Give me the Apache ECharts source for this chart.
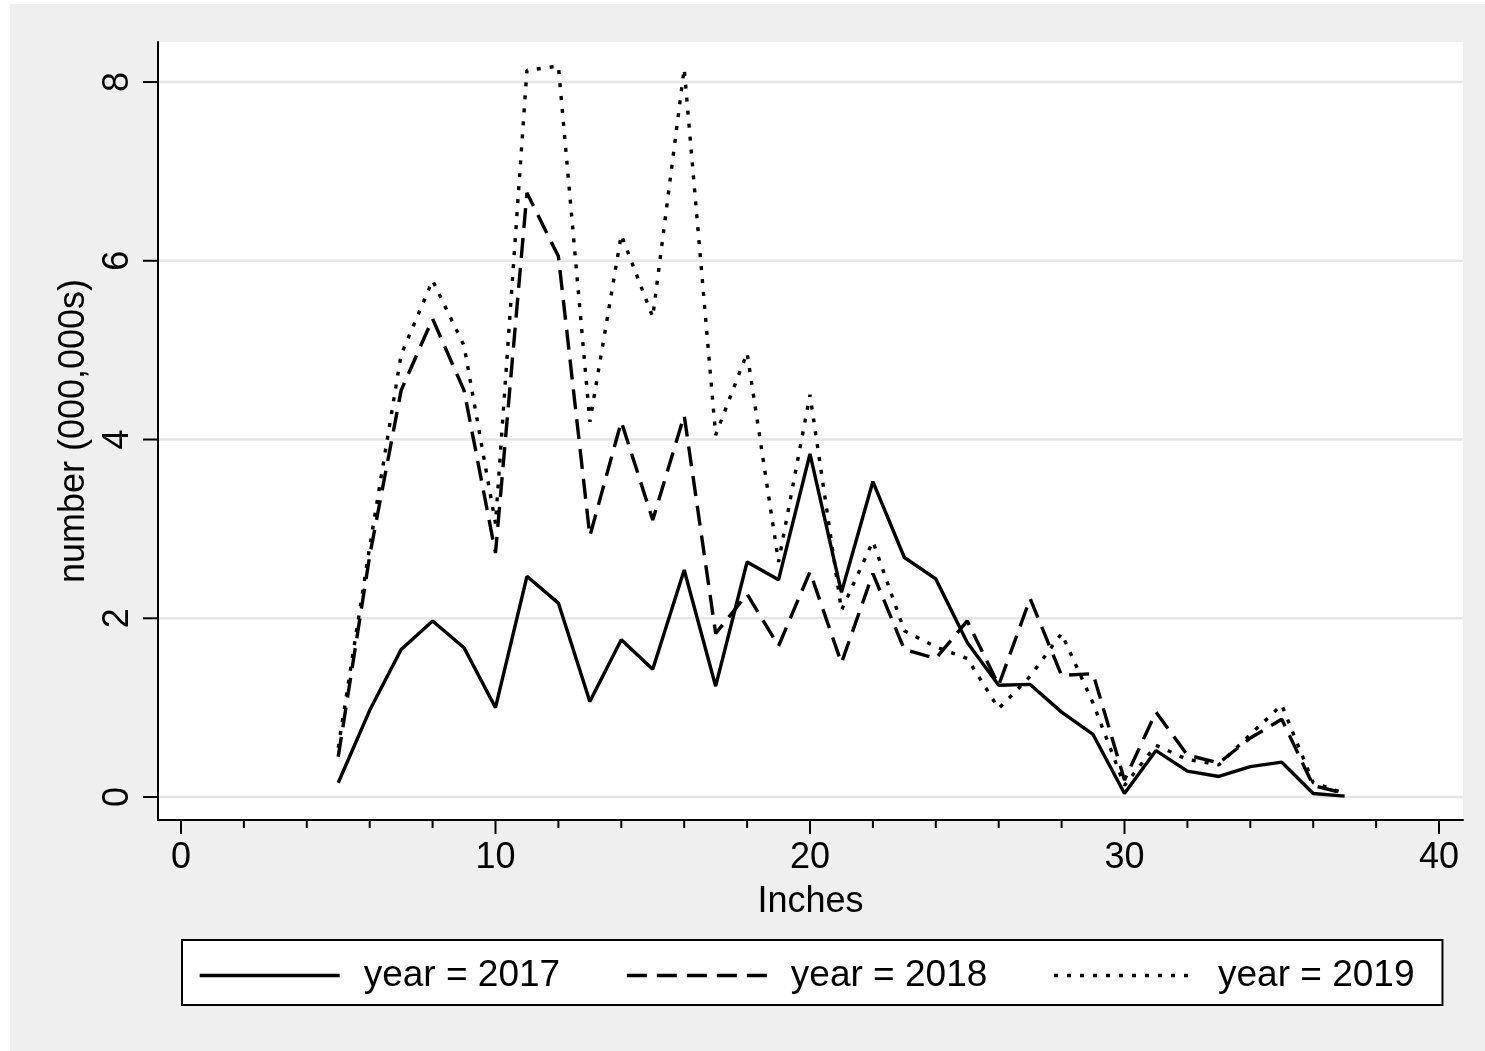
<!DOCTYPE html>
<html><head><meta charset="utf-8">
<script src="https://cdn.jsdelivr.net/npm/echarts@6/dist/echarts.min.js"></script>
<style>
html,body{margin:0;padding:0;background:#fff;width:1485px;height:1051px;overflow:hidden;}
#bg{position:absolute;left:10px;top:4px;width:1475px;height:1047px;background:#efefef;}
#chart{position:absolute;left:0;top:0;width:1485px;height:1051px;}
</style></head><body>
<div id="bg"></div><div id="chart"></div>
<script>
// ---- data ----
const inches = [5,6,7,8,9,10,11,12,13,14,15,16,17,18,19,20,21,22,23,24,25,26,27,28,29,30,31,32,33,34,35,36,37];
const y2017 = [0.16,0.97,1.65,1.97,1.67,1.00,2.47,2.17,1.07,1.76,1.43,2.54,1.24,2.63,2.43,3.84,2.29,3.53,2.68,2.44,1.73,1.25,1.26,0.95,0.70,0.04,0.52,0.29,0.23,0.34,0.39,0.04,0.01];
const y2018 = [0.45,2.70,4.55,5.35,4.55,2.73,6.76,6.05,2.92,4.20,3.10,4.27,1.83,2.27,1.69,2.52,1.50,2.50,1.65,1.55,1.97,1.25,2.22,1.36,1.38,0.19,0.95,0.47,0.38,0.66,0.87,0.13,0.04];
const y2019 = [0.55,2.80,4.95,5.78,5.05,3.06,8.13,8.18,4.20,6.29,5.37,8.15,4.05,4.97,2.63,4.50,2.09,2.86,1.86,1.68,1.55,0.99,1.35,1.83,1.05,0.13,0.58,0.42,0.36,0.70,1.03,0.16,0.04];
const seriesNames = ['year = 2017','year = 2018','year = 2019'];
const xMajorTicks = [0,10,20,30,40];
const xMinorTicks = [2,4,6,8,12,14,16,18,22,24,26,28,32,34,36,38];
const yTicks = [0,2,4,6,8];
const xTitle = 'Inches';
const yTitle = 'number (000,000s)';

const X_MIN = -0.731, X_MAX = 40.763, Y_MIN = -0.257, Y_MAX = 8.448;
const FONT = '"Liberation Sans", Arial, Helvetica, sans-serif';

const chart = echarts.init(document.getElementById('chart'), null, {renderer:'canvas'});

function lineSeries(name, ys, type){
  return {
    name: name, type:'line', z:3,
    data: inches.map((x,i)=>[x, ys[i]]),
    showSymbol:false, symbol:'none',
    lineStyle:{color:'#000', width:3.4, type:type},
    itemStyle:{color:'#000'},
    emphasis:{disabled:true}
  };
}

const option = {
  animation:false,
  grid:{left:158, right:22, top:42, bottom:231, show:true, backgroundColor:'#fff', borderWidth:0},
  xAxis:{
    type:'value', min:X_MIN, max:X_MAX, z:10,
    axisLine:{show:true, onZero:false, lineStyle:{color:'#000', width:2}},
    axisTick:{show:false}, axisLabel:{show:false}, splitLine:{show:false},
    name:xTitle, nameLocation:'middle', nameGap:64,
    nameTextStyle:{fontSize:36, color:'#000', fontFamily:FONT}
  },
  yAxis:{
    type:'value', min:Y_MIN, max:Y_MAX, z:10,
    axisLine:{show:true, onZero:false, lineStyle:{color:'#000', width:2}},
    axisTick:{show:false}, axisLabel:{show:false}, splitLine:{show:false},
    name:yTitle, nameLocation:'middle', nameGap:66,
    nameTextStyle:{fontSize:36, color:'#000', fontFamily:FONT}
  },
  legend:{
    data:seriesNames, left:182, top:940, orient:'horizontal',
    itemWidth:140, itemHeight:20, itemGap:65,
    padding:[17,28,11,16],
    backgroundColor:'#fff', borderColor:'#000', borderWidth:2,
    selectedMode:false,
    itemStyle:{opacity:0, color:'transparent', borderWidth:0},
    lineStyle:{width:3.4},
    textStyle:{fontSize:37, color:'#000', fontFamily:FONT, padding:[0,0,0,19]}
  },
  series:[
    { // gridlines
      type:'custom', coordinateSystem:'cartesian2d', clip:false, silent:true, z:1,
      data: yTicks.map(v=>[X_MIN, v]),
      renderItem(params, api){
        const a = api.coord([X_MIN, api.value(1)]);
        const b = api.coord([X_MAX, api.value(1)]);
        return {type:'line', shape:{x1:a[0]+1, y1:a[1], x2:b[0], y2:b[1]}, style:{stroke:'#e6e6e6', lineWidth:2.5}};
      }
    },
    { // y ticks and labels
      type:'custom', coordinateSystem:'cartesian2d', clip:false, silent:true, z:5,
      data: yTicks.map(v=>[X_MIN, v]),
      renderItem(params, api){
        const p = api.coord([X_MIN, api.value(1)]);
        return {type:'group', children:[
          {type:'line', shape:{x1:p[0]-15, y1:p[1], x2:p[0], y2:p[1]}, style:{stroke:'#000', lineWidth:2}},
          {type:'text', x:p[0]-40, y:p[1], rotation:Math.PI/2,
           style:{text:String(api.value(1)), fill:'#000', fontSize:36, fontFamily:FONT, align:'center', verticalAlign:'middle'}}
        ]};
      }
    },
    { // x major ticks and labels
      type:'custom', coordinateSystem:'cartesian2d', clip:false, silent:true, z:5,
      data: xMajorTicks.map(v=>[v, Y_MIN]),
      renderItem(params, api){
        const p = api.coord([api.value(0), Y_MIN]);
        return {type:'group', children:[
          {type:'line', shape:{x1:p[0], y1:p[1], x2:p[0], y2:p[1]+14}, style:{stroke:'#000', lineWidth:2}},
          {type:'text', x:p[0], y:p[1]+38,
           style:{text:String(api.value(0)), fill:'#000', fontSize:36, fontFamily:FONT, align:'center', verticalAlign:'middle'}}
        ]};
      }
    },
    { // x minor ticks
      type:'custom', coordinateSystem:'cartesian2d', clip:false, silent:true, z:5,
      data: xMinorTicks.map(v=>[v, Y_MIN]),
      renderItem(params, api){
        const p = api.coord([api.value(0), Y_MIN]);
        return {type:'line', shape:{x1:p[0], y1:p[1], x2:p[0], y2:p[1]+8}, style:{stroke:'#000', lineWidth:2}};
      }
    },
    lineSeries(seriesNames[0], y2017, 'solid'),
    lineSeries(seriesNames[1], y2018, [20,10]),
    lineSeries(seriesNames[2], y2019, [4,9])
  ]
};
chart.setOption(option);
</script>
</body></html>
